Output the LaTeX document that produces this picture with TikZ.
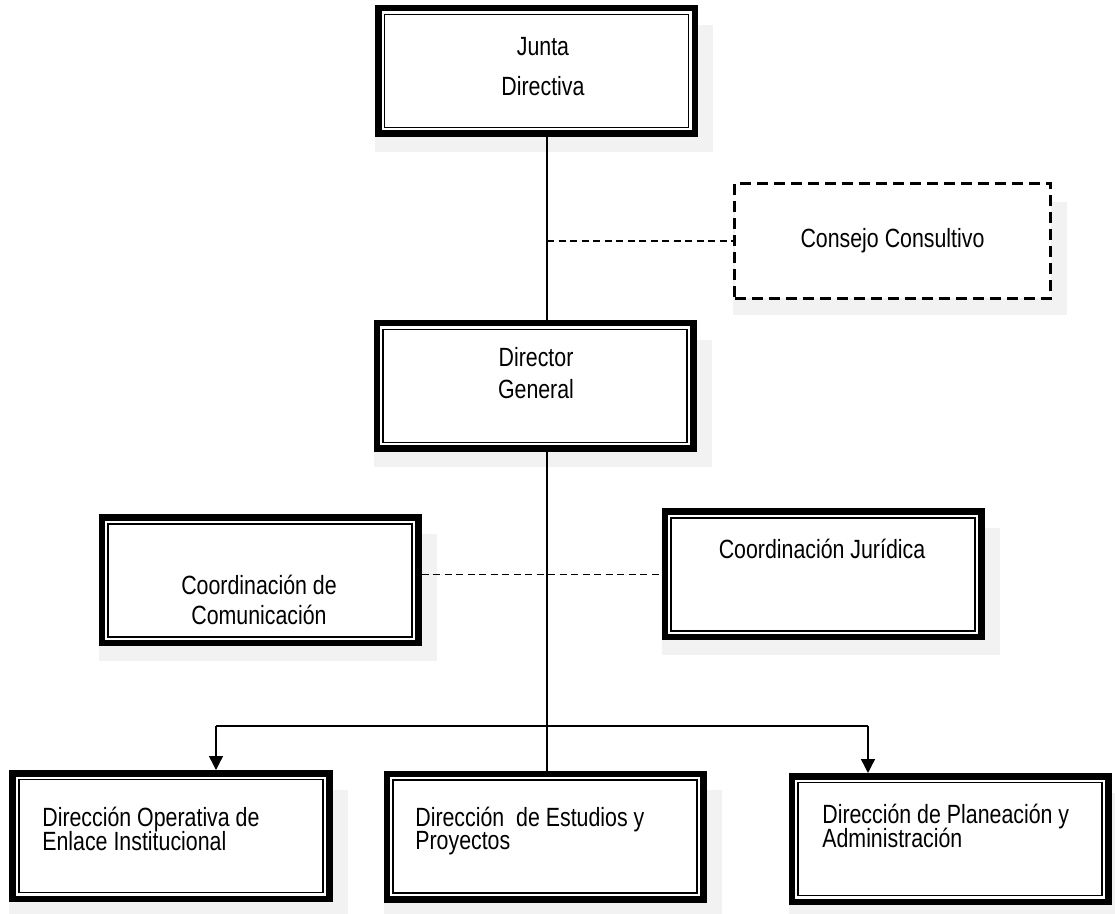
\documentclass[tikz,border=0pt]{standalone}
\usepackage{fontspec}
\setmainfont[FakeStretch=0.81]{Liberation Sans}
\usetikzlibrary{arrows.meta,calc,backgrounds}
\newcommand\apretado{\lineskiplimit=-100pt\relax}
\tikzset{
	caja/.style={draw, fill=white, line width=1.3mm, minimum width=6.33cm, minimum height=2.51cm},
	asesor/.style={draw, fill=white, line width=0.6mm, dash pattern=on 2.2mm off 1.2mm, minimum width=6.32cm, minimum height=2.3cm, font=\fontsize{15pt}{18pt}\selectfont},
	texto/.style={inner sep=0pt, font=\fontsize{15pt}{#1}\selectfont\apretado},
	texto/.default=13.6pt,
	linea/.style={line width=0.8pt},
	punteada/.style={line width=0.8pt, dash pattern=on 1.4mm off 0.9mm},
	flecha/.style={line width=0.8pt, -{Triangle[width=2.8mm,length=2.8mm]}}
}

\begin{document}
\begin{tikzpicture}
			%%%%% START %%%%%
			\useasboundingbox (0, 0) rectangle (22.3, 18.26);
			
			\node[caja] (jd) at (10.73, 16.84) {};
			\node[texto=22.8pt, align=center] (jdt) at (10.86, 16.92) {Junta\\Directiva};
			
			\node[asesor] (cc) at (17.85, 13.44) {Consejo Consultivo};
			
			\node[caja] (dg) at (10.70, 10.54) {};
			\node[texto=18.2pt, align=center] (dgt) at (10.72, 10.8) {Director\\General};
			
			\node[caja] (cm) at (5.20, 6.65) {};
			\node[texto=17pt, align=center] (cmt) at (5.18, 6.26) {Coordinación de\\Comunicación};
			
			\node[caja] (cj) at (16.46, 6.77) {};
			\node[texto, align=center] (cjt) at (16.44, 7.28) {Coordinación Jurídica};
			
			\node[caja] (deo) at (3.42, 1.54) {};
			\node[texto, align=left, anchor=west] (deot) at (0.84, 1.68) {Dirección Operativa de\\Enlace Institucional};
			
			\node[caja] (dep) at (10.90, 1.53) {};
			\node[texto, align=left, anchor=west] (dept) at (8.30, 1.64) {Dirección\ \ de Estudios y\\Proyectos};
			
			\node[caja] (dpa) at (19.0, 1.48) {};
			\node[texto, align=left, anchor=west] (dpat) at (16.44, 1.74) {Dirección de Planeación y\\Administración};
			
			% inner frame of the boxes
			\foreach \n in {jd,dg,cm,cj,deo,dep,dpa}
				\draw[line width=0.7pt] ([shift={(0.19,0.19)}]\n.south west) rectangle ([shift={(-0.19,-0.19)}]\n.north east);
			
			\begin{scope}[on background layer]
				\foreach \n in {jd,cc,dg,cm,cj,deo,dep,dpa}
					\fill[black!5] ([yshift=-0.3cm]\n.south west) rectangle ([shift={(0.3,-0.4)}]\n.north east);
			\end{scope}
			
			\coordinate (eje) at (10.94, 0);
			\coordinate (izq) at (4.32, 3.74);
			\coordinate (der) at (17.36, 3.74);
			
			\draw[linea] (jd.south -| eje) -- (dg.north -| eje);
			\draw[linea] (dg.south -| eje) -- (dep.north -| eje);
			\draw[punteada] (cc.west -| eje) -- (cc.west);
			\draw[punteada] (cm.east |- cj.west) -- (cj.west);
			
			\draw[linea] (izq) -- (der);
			\draw[flecha] (izq) -- (izq |- deo.north);
			\draw[flecha] (der) -- (der |- dpa.north);
			
			%%%%% END %%%%%
\end{tikzpicture}
\end{document}
